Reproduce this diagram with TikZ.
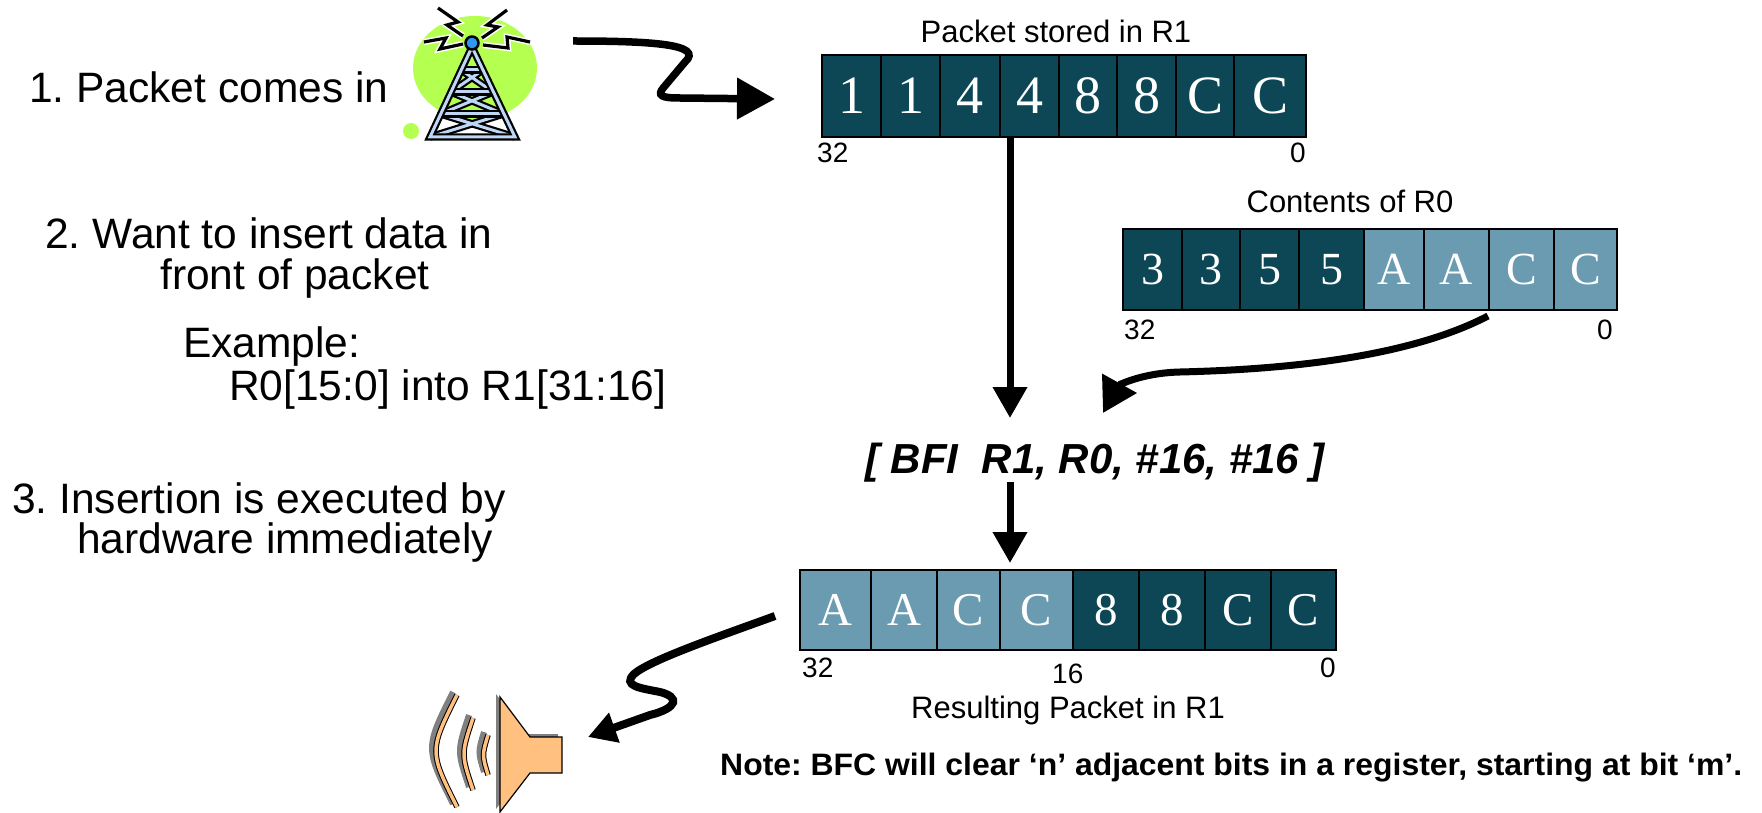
\documentclass[tikz,border=0pt]{standalone}
\usepackage{fontspec}
\setmainfont{Liberation Sans}
\newfontfamily\regfont{Liberation Serif}
\newfontfamily\notefont{Liberation Sans}[FakeStretch=1.03]
\usetikzlibrary{arrows.meta}
\frenchspacing

\definecolor{regdark}{RGB}{13,70,85}
\definecolor{reglight}{RGB}{106,155,176}
\definecolor{blobgreen}{RGB}{180,255,80}
\definecolor{towerblue}{RGB}{190,215,245}
\definecolor{beaconblue}{RGB}{50,150,240}
\definecolor{hornorange}{RGB}{255,192,128}

\newcommand\fsz[1]{\fontsize{#1}{#1}\selectfont}

% one register: name prefix, top, bottom, font size, list left/right/char/colour
\newcommand\regrow[5]{%
  \foreach \xa/\xb/\ch/\col [count=\i] in {#5}{%
    \node[cell, fill=\col, minimum width={(\xb-\xa)*1pt}, minimum height={(#3-#2)*1pt},
          font=\regfont\fsz{#4}] (#1c\i) at ({(\xa+\xb)/2},{(#2+#3)/2}) {\ch};
  }}

\begin{document}
\begin{tikzpicture}[x=1pt,y=-1pt,
  cell/.style={draw=black, line width=2pt, inner sep=0pt, outer sep=0pt, text=white},
  lefttext/.style={anchor=base west, inner sep=0pt, font=\fsz{42.5}},
  title/.style={anchor=base, inner sep=0pt, font=\fsz{31}},
  bitw/.style={anchor=base west, inner sep=0pt, font=\fsz{28}},
  bite/.style={anchor=base east, inner sep=0pt, font=\fsz{28}},
  bigarrow/.style={line width=7pt, -{Triangle[length=31pt,width=33pt]}},
  squigA/.style={line width=7.5pt, -{Triangle[length=38pt,width=40pt]}},
  squigB/.style={line width=8pt, -{Triangle[length=28pt,width=30pt]}},
  curveC/.style={line width=7pt, -{Triangle[length=34pt,width=38pt]}},
  tower/.style={draw=black, line width=2.2pt, double=towerblue, double distance=3pt, line join=miter},
  bolt/.style={draw=white, line width=1.5pt, double=black, double distance=3.2pt, line join=miter},
  wave/.style={draw=black, line width=1pt, double=hornorange, double distance=3.5pt},
  waveshadow/.style={draw=gray, line width=6pt}
]
\fill[white] (0,0) rectangle (1762,813);
\useasboundingbox (0,0) rectangle (1762,813);

% ---- left-hand steps
\node[lefttext] (t1)  at (29,103)  {1. Packet comes in};
\node[lefttext] (t2a) at (45,249)  {2. Want to insert data in};
\node[lefttext] (t2b) at (160,289) {front of packet};
\node[lefttext] (t2c) at (183,357) {Example:};
\node[lefttext] (t2d) at (229,400) {R0[15:0] into R1[31:16]};
\node[lefttext] (t3a) at (12,513)  {3. Insertion is executed by};
\node[lefttext] (t3b) at (77,553)  {hardware immediately};

% ---- radio tower
\fill[blobgreen] (475,68) ellipse [x radius=62, y radius=52];
\fill[blobgreen] (411,131) circle (8);
\draw[tower] (461.1,70) -- (493.2,92) (482.9,70) -- (450.8,92);
\draw[tower] (450.8,92) -- (503.6,114) (493.2,92) -- (440.4,114);
\draw[tower] (440.4,114) -- (515,137) (503.6,114) -- (430,137);
\draw[tower] (461.1,70) -- (482.9,70) (450.8,92) -- (493.2,92) (440.4,114) -- (503.6,114);
\draw[tower] (430,137) -- (472,47) -- (515,137) -- cycle;
\draw[bolt] (438,8) -- (458,22) -- (447,25) -- (463,36);
\draw[bolt] (424,42) -- (446,38) -- (440,49) -- (463,44);
\draw[bolt] (507,10) -- (487,25) -- (498,27) -- (482,38);
\draw[bolt] (530,42) -- (507,37) -- (508,48) -- (483,45);
\draw[fill=beaconblue, line width=2.5pt] (472,43) circle (6.5);

% ---- loudspeaker
\fill[gray] (496,694) -- (526,734) -- (558,734) -- (558,770) -- (526,770) -- (496,809) -- cycle;
\draw[fill=hornorange, line width=1.2pt] (500,697) -- (530,737) -- (562,737) -- (562,773) -- (530,773) -- (500,812) -- cycle;
\draw[waveshadow] (453,692) .. controls (425,748) .. (453,804);
\draw[waveshadow] (469,715) .. controls (457,751) .. (469,787);
\draw[waveshadow] (484,732) .. controls (478,752) .. (484,772);
\draw[wave] (457,695) .. controls (429,751) .. (457,807);
\draw[wave] (473,718) .. controls (461,754) .. (473,790);
\draw[wave] (488,735) .. controls (482,755) .. (488,775);

% ---- register R1 (incoming packet)
\node[title] (r1title) at (1056,43) {Packet stored in R1};
\regrow{ra}{55}{137}{54}{822/881/1/regdark, 881/940/1/regdark, 940/1000/4/regdark, 1000/1059/4/regdark,
  1059/1117/8/regdark, 1117/1176/8/regdark, 1176/1234/C/regdark, 1234/1306/C/regdark}
\node[bitw] (ra32) at (817,163) {32};
\node[bite] (ra0) at (1306,163) {0};

% ---- register R0
\node[title] (r0title) at (1350,213) {Contents of R0};
\regrow{rb}{229}{310}{46}{1123/1182/3/regdark, 1182/1240/3/regdark, 1240/1299/5/regdark, 1299/1364/5/regdark,
  1364/1424/A/reglight, 1424/1489/A/reglight, 1489/1554/C/reglight, 1554/1617/C/reglight}
\node[bitw] (rb32) at (1124,339) {32};
\node[bite] (rb0) at (1613,339) {0};

% ---- instruction
\node[anchor=base, inner sep=0pt, font=\bfseries\itshape\fsz{42}] (bfi) at (1095,473) {[ BFI\ \ R1, R0, \#16, \#16 ]};

% ---- resulting register R1
\regrow{rc}{570}{650}{47}{800/871/A/reglight, 871/937/A/reglight, 937/1000/C/reglight, 1000/1073/C/reglight,
  1073/1139/8/regdark, 1139/1205/8/regdark, 1205/1271/C/regdark, 1271/1336/C/regdark}
\node[bitw] (rc32) at (802,677) {32};
\node[bitw] (rc16) at (1052,683) {16};
\node[bite] (rc0) at (1336,677) {0};
\node[title] (rctitle) at (1068,718) {Resulting Packet in R1};

% ---- note
\node[anchor=base west, inner sep=0pt, font=\notefont\bfseries\fsz{31}] (note) at (720,775)
  {Note: BFC will clear ‘n’ adjacent bits in a register, starting at bit ‘m’.};

% ---- connectors
\coordinate (v1s) at ([xshift=10pt]rac4.south west);
\coordinate (v1e) at (1010,418);
\coordinate (v2s) at (1010,482);
\coordinate (v2e) at (1010,563);
\draw[bigarrow] (v1s) -- (v1e);
\draw[bigarrow] (v2s) -- (v2e);

\coordinate (sq1s) at (573,41);
\coordinate (sq1e) at (775,99);
\draw[squigA] (sq1s) .. controls (650,41) and (705,44) .. (685,62) -- (664,87)
  .. controls (656,96) and (662,98) .. (680,98) -- (sq1e);

\coordinate (sq2s) at (775,616);
\coordinate (sq2e) at (588,737);
\draw[squigB] (sq2s) .. controls (720,636) and (650,660) .. (634,674)
  .. controls (622,686) and (640,688) .. (660,692)
  .. controls (680,697) and (678,708) .. (650,715) -- (sq2e);

\coordinate (c3s) at (1488,316);
\coordinate (c3e) at (1103,413);
\draw[curveC] (c3s) .. controls (1400,362) and (1260,370) .. (1180,372)
  .. controls (1140,373) and (1118,386) .. (c3e);
\end{tikzpicture}
\end{document}
